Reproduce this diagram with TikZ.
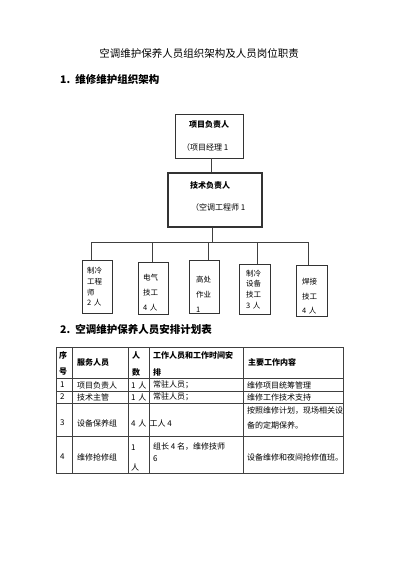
\documentclass[tikz,border=0pt]{standalone}
\usepackage{fontspec}
\setmainfont{Noto Sans CJK SC}
\usetikzlibrary{shadows}
\begin{document}
\begin{tikzpicture}[x=1pt,y=-1pt,
  txt/.style={inner sep=0pt, font=\fontsize{8}{9}\selectfont, anchor=west},
  txtb/.style={txt, font=\fontsize{8}{9}\selectfont\bfseries},
  small/.style={inner sep=0pt, font=\fontsize{7.5}{8.5}\selectfont, anchor=west},
  head/.style={inner sep=0pt, font=\fontsize{10.5}{12}\selectfont\bfseries, anchor=west},
  topbox/.style={draw=black!80, fill=white, line width=0.6pt, inner sep=0pt},
  subbox/.style={draw=black!80, fill=white, line width=0.6pt, inner sep=0pt,
     minimum width=30pt, drop shadow={shadow xshift=1.3pt, shadow yshift=-1.3pt, fill=black!45, opacity=1}},
  conn/.style={draw=black!75, line width=0.6pt},
  tbl/.style={draw=black!75, line width=0.6pt}]
\useasboundingbox (0,0) rectangle (400,565);
\fill[white] (0,0) rectangle (400,565);

% titles
\node[inner sep=0pt, font=\fontsize{10.5}{12}\selectfont] (title) at (199,53) {空调维护保养人员组织架构及人员岗位职责};
\node[head] (h1) at (60,79) {1.\hspace{5pt}维修维护组织架构};
\node[head] (h2) at (60,330) {2.\hspace{5pt}空调维护保养人员安排计划表};

% org chart boxes
\node[topbox, minimum width=68pt, minimum height=44pt] (b1) at (209,136) {};
\node[topbox, line width=1.3pt, minimum width=94pt, minimum height=54pt] (b2) at (215,200) {};
\node[txtb, anchor=center] (b1t) at (209,124) {项目负责人};
\node[txt] (b1s) at (182,147) {（项目经理 1};
\node[txtb, anchor=center] (b2t) at (210,185) {技术负责人};
\node[txt] (b2s) at (191,207) {（空调工程师 1};

\node[subbox, minimum height=53pt] (ba) at (97,286.5) {};
\node[subbox, minimum height=52pt] (bb) at (153,288) {};
\node[subbox, minimum height=53pt] (bc) at (204,286.5) {};
\node[subbox, minimum width=31pt, minimum height=50pt] (bd) at (254.5,289) {};
\node[subbox, minimum width=31pt, minimum height=51pt] (be) at (311.5,290.5) {};

\node[small] (ta1) at (87,271) {制冷};
\node[small] (ta2) at (87,282) {工程};
\node[small] (ta3) at (87,293) {师};
\node[small] (ta4) at (87,303) {2\,\,人};
\node[small] (tb1) at (143,278) {电气};
\node[small] (tb2) at (143,293) {技工};
\node[small] (tb3) at (143,308) {4\,\,人};
\node[small] (tc1) at (196,280) {高处};
\node[small] (tc2) at (196,295) {作业};
\node[small] (tc3) at (196,310) {1};
\node[small] (td1) at (246,274) {制冷};
\node[small] (td2) at (246,284) {设备};
\node[small] (td3) at (246,295) {技工};
\node[small] (td4) at (246,306) {3\,\,人};
\node[small] (te1) at (302,282) {焊接};
\node[small] (te2) at (302,297) {技工};
\node[small] (te3) at (302,311) {4\,\,人};

% connectors
\coordinate (j1) at (211,0);
\coordinate (bar) at (212,242);
\coordinate (da) at (91,242);
\coordinate (db) at (152,242);
\coordinate (dc) at (208,242);
\coordinate (dd) at (257,242);
\coordinate (de) at (308,242);
\draw[conn] (j1 |- b1.south) -- (j1 |- b2.north);
\draw[conn] (bar |- b2.south) -- (bar);
\draw[conn] (da) -- (de);
\draw[conn] (da) -- (da |- ba.north);
\draw[conn] (db) -- (db |- bb.north);
\draw[conn] (dc) -- (dc |- bc.north);
\draw[conn] (dd) -- (dd |- bd.north);
\draw[conn] (de) -- (de |- be.north);

% table
\draw[tbl] (56,347) rectangle (343,473);
\foreach \yy in {378,391,403,436} \draw[tbl] (56,\yy) -- (343,\yy);
\foreach \xx in {72,128,149,243} \draw[tbl] (\xx,347) -- (\xx,473);

\node[txtb] (c11) at (59,355) {序};
\node[txtb] (c12) at (59,372) {号};
\node[txtb] (c2) at (77,362) {服务人员};
\node[txtb] (c31) at (132,355) {人};
\node[txtb] (c32) at (132,372) {数};
\node[txtb] (c41) at (153,355) {工作人员和工作时间安};
\node[txtb] (c42) at (153,372) {排};
\node[txtb] (c5) at (248,362) {主要工作内容};

\node[txt] (r11) at (60,385) {1};
\node[txt] (r12) at (77,385) {项目负责人};
\node[txt] (r13) at (131,385) {1\,\,人};
\node[txt] (r14) at (153,385) {常驻人员；};
\node[txt] (r15) at (247,385) {维修项目统筹管理};

\node[txt] (r21) at (60,397) {2};
\node[txt] (r22) at (77,397) {技术主管};
\node[txt] (r23) at (131,397) {1\,\,人};
\node[txt] (r24) at (153,397) {常驻人员；};
\node[txt] (r25) at (247,397) {维修工作技术支持};

\node[txt] (r31) at (60,423) {3};
\node[txt] (r32) at (77,423) {设备保养组};
\node[txt] (r33) at (131,423) {4\,\,人};
\node[txt] (r34) at (149.5,423) {工人 4};
\node[txt] (r35a) at (247,411) {按照维修计划，现场相关设};
\node[txt] (r35b) at (247,425) {备的定期保养。};

\node[txt] (r41) at (60,457) {4};
\node[txt] (r42) at (77,457) {维修抢修组};
\node[txt] (r43a) at (131,448) {1};
\node[txt] (r43b) at (131,467) {人};
\node[txt] (r44a) at (153,447) {组长 4 名，维修技师};
\node[txt] (r44b) at (153,459) {6};
\node[txt] (r45) at (247,457) {设备维修和夜间抢修值班。};
\end{tikzpicture}
\end{document}
